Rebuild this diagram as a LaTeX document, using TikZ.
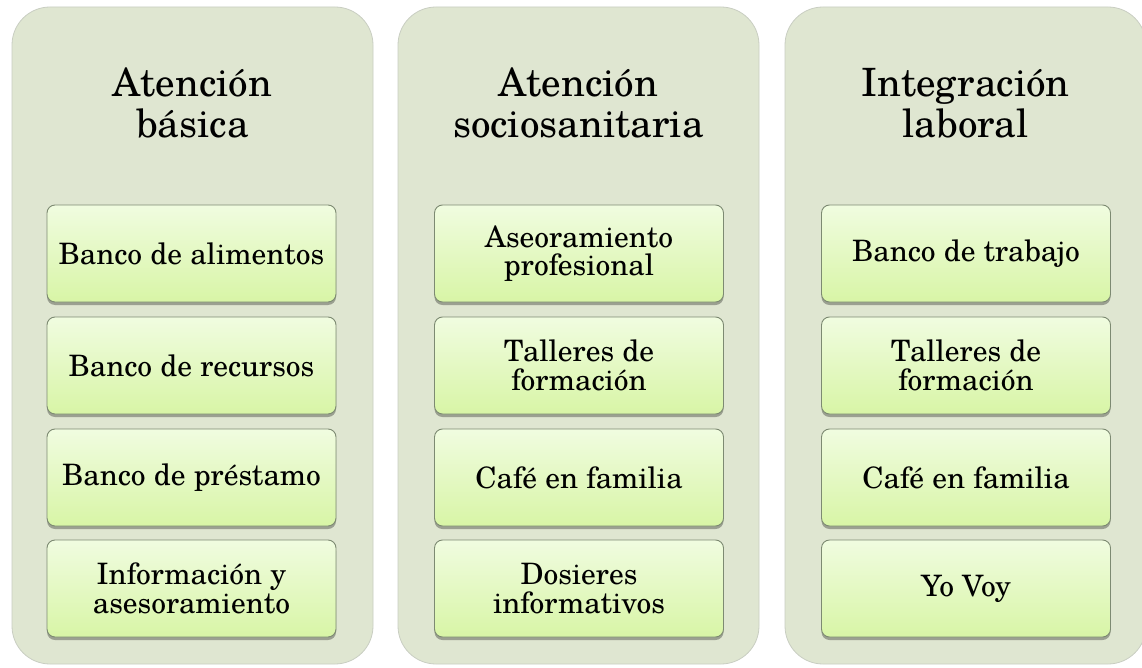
\documentclass[tikz,border=0pt]{standalone}
\usepackage{fontspec}
\setmainfont{TeX Gyre Schola}
\usetikzlibrary{shadows}
\definecolor{panelc}{HTML}{DFE6D1}
\definecolor{panelline}{HTML}{C9CEC2}
\definecolor{boxtop}{HTML}{F0FCE0}
\definecolor{boxbot}{HTML}{D8F5A6}
\definecolor{boxline}{HTML}{7D8A72}
\tikzset{
  panel/.style={fill=panelc, draw=panelline, line width=0.8pt, rounded corners=38pt,
    minimum width=361pt, minimum height=657pt, inner sep=0pt},
  itembox/.style={draw=boxline, line width=0.9pt, rounded corners=8pt,
    top color=boxtop, bottom color=boxbot, minimum width=289pt, minimum height=97pt,
    inner sep=0pt, align=center, font=\fontsize{29.5}{28.5}\selectfont,
    drop shadow={shadow xshift=0pt, shadow yshift=-3pt, opacity=0.3, fill=black}},
  paneltitle/.style={align=center, font=\fontsize{39}{41}\selectfont, inner sep=0pt}
}
\begin{document}
\begin{tikzpicture}[x=1pt,y=-1pt]
\useasboundingbox (0,0) rectangle (1142,668);
\fill[white] (0,0) rectangle (1142,668);
% panels
\node[panel] (p1) at (192.5,335.5) {};
\node[panel] (p2) at (578.5,335.5) {};
\node[panel] (p3) at (965.5,335.5) {};
% titles
\node[paneltitle] (t1) at (192.5,103) {Atención\\básica};
\node[paneltitle] (t2) at (578.5,103) {Atención\\sociosanitaria};
\node[paneltitle] (t3) at (965.5,103) {Integración\\laboral};
% column 1
\node[itembox] (a1) at (191.5,253.5) {Banco de alimentos};
\node[itembox] (a2) at (191.5,365.5) {Banco de recursos};
\node[itembox] (a3) at (191.5,477.5) {Banco de préstamo};
\node[itembox] (a4) at (191.5,588.5) {Información y\\asesoramiento};
% column 2
\node[itembox] (b1) at (579,253.5) {Aseoramiento\\profesional};
\node[itembox] (b2) at (579,365.5) {Talleres de\\formación};
\node[itembox] (b3) at (579,477.5) {Café en familia};
\node[itembox] (b4) at (579,588.5) {Dosieres\\informativos};
% column 3
\node[itembox] (c1) at (966,253.5) {Banco de trabajo};
\node[itembox] (c2) at (966,365.5) {Talleres de\\formación};
\node[itembox] (c3) at (966,477.5) {Café en familia};
\node[itembox] (c4) at (966,588.5) {Yo Voy};
\end{tikzpicture}
\end{document}
